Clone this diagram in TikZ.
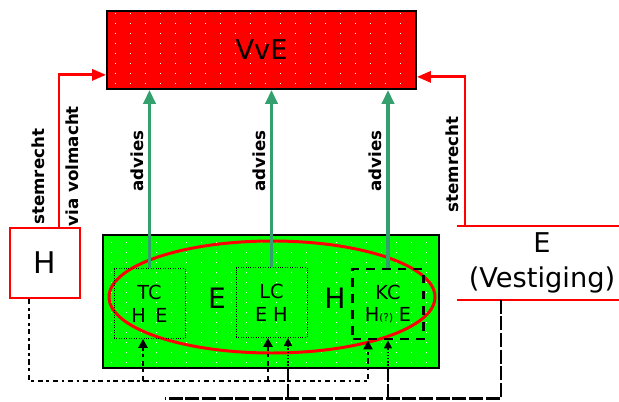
\documentclass[tikz,border=0pt]{standalone}
\usepackage{fontspec}
\setmainfont{DejaVu Sans}
\usepackage{xcolor}
\definecolor{vvered}{HTML}{FF0000}
\definecolor{vvegreen}{HTML}{00FF00}
\definecolor{adviesgreen}{HTML}{34A06E}
\usetikzlibrary{positioning,arrows.meta,calc}
\tikzset{
  dots/.style  ={path picture={
                   \foreach \i in {1,...,23}{\foreach \j in {1,...,13}{
                     \fill[white] ($(path picture bounding box.south west)+(\i*0.3-0.15,\j*0.2-0.1)$)
                       rectangle +(0.022,0.022);}}}},
  vbox/.style  ={rectangle, draw=black, line width=1pt, fill=vvered, dots, inner sep=0pt,
                 minimum width=61.8mm, minimum height=15.6mm, font=\fontsize{15.5}{18}\selectfont},
  gbox/.style  ={rectangle, draw=black, line width=1pt, fill=vvegreen, dots, inner sep=0pt,
                 minimum width=67.2mm, minimum height=26.6mm},
  hbx/.style   ={rectangle, draw=vvered, line width=1.1pt, fill=white, minimum width=14mm,
                 minimum height=14mm, font=\fontsize{17}{20}\selectfont},
  vest/.style  ={rectangle, minimum width=34mm, minimum height=14mm, align=center,
                 font=\fontsize{15.5}{20}\selectfont},
  cbox/.style  ={rectangle, draw=black, densely dotted, thin, minimum width=14.2mm,
                 minimum height=14mm, align=center, font=\fontsize{11}{13}\selectfont},
  kbox/.style  ={cbox, solid, dash pattern=on 5pt off 4pt, line width=1.6pt},
  big/.style   ={font=\fontsize{16}{18}\selectfont, inner sep=0pt},
  advarr/.style={-{Triangle[length=2.8mm,width=2.4mm]}, draw=adviesgreen, line width=2pt},
  stemarr/.style={-{Triangle[length=2.8mm,width=2.2mm]}, draw=vvered, line width=1.7pt},
  vl/.style    ={font=\bfseries\fontsize{9.5}{11}\selectfont, rotate=90, inner sep=2.5pt},
  hln/.style   ={line width=1.6pt, dash dot},
  harr/.style  ={hln, -{Triangle[length=1.8mm,width=1.8mm]}},
  eln/.style   ={line width=1.2pt, dash pattern=on 8pt off 1.5pt},
  earr/.style  ={line width=0.8pt, densely dotted, -{Triangle[length=1.6mm,width=1.6mm]}},
}

\begin{document}
\begin{tikzpicture}
  \useasboundingbox (0,0) rectangle (12.38,8.02);
  % boxes
  \node[vbox] (vve) at (5.23,7.02) {VvE};
  \node[gbox] (grn) at (5.42,1.99) {};
  \draw[vvered, line width=1.7pt] (5.44,2.08) ellipse [x radius=3.26, y radius=1.12];
  \node[big]  (ge) at (4.34,2.06) {E};
  \node[big]  (gh) at (6.70,2.06) {H};
  \node[cbox] (tc) at (2.99,1.95) {TC\\H\hspace{0.5em}E};
  \node[cbox] (lc) at (5.43,1.97) {LC\\E\hspace{0.3em}H};
  \node[kbox] (kc) at (7.76,1.94) {KC\\H{\fontsize{6}{6}\selectfont(?)}\hspace{0.3em}E};
  \node[hbx]  (hb) at (0.90,2.76) {H};
  \node[vest] (ve) at (10.84,2.76) {E\\(Vestiging)};
  \draw[vvered, line width=1.1pt] (ve.north west) -- (ve.north east)
                                  (ve.south west) -- (ve.south east);
  % advies
  \draw[advarr] (tc.north) -- (tc.north |- vve.south) node[vl, pos=0.6, anchor=south] {advies};
  \draw[advarr] (lc.north) -- (lc.north |- vve.south) node[vl, pos=0.6, anchor=south] {advies};
  \draw[advarr] (kc.north) -- (kc.north |- vve.south) node[vl, pos=0.6, anchor=south] {advies};
  % stemrecht
  \draw[stemarr] ([xshift=2.8mm]hb.north) |- ([yshift=3mm]vve.south west)
    node[vl, pos=0.165, anchor=south, inner sep=7pt] {stemrecht}
    node[vl, pos=0.2, anchor=north, inner sep=3pt] {via volmacht};
  \draw[stemarr] ([xshift=-15.4mm]ve.north) |- ([yshift=2.6mm]vve.south east)
    node[vl, pos=0.207, anchor=south, inner sep=3pt] {stemrecht};
  % H onder
  \coordinate (ht) at (2.86,0.40);
  \coordinate (hl) at (5.36,0.40);
  \coordinate (hk) at (7.36,0.40);
  \draw[harr] ([xshift=-3.2mm]hb.south) |- (hk) -- (hk |- kc.south);
  \draw[harr] (ht) -- (ht |- tc.south);
  \draw[harr] (hl) -- (hl |- lc.south);
  % E onder
  \coordinate (ee) at (3.30,0.05);
  \coordinate (el) at (5.76,0.05);
  \coordinate (ek) at (7.76,0.05);
  \draw[eln] ([xshift=-8.2mm]ve.south) |- (ee);
  \draw[eln] (el) -- (el |- grn.south);
  \draw[eln] (ek) -- (ek |- grn.south);
  \draw[earr] (el |- grn.south) -- (el |- lc.south);
  \draw[earr] (ek |- grn.south) -- (ek |- kc.south);
\end{tikzpicture}
\end{document}
